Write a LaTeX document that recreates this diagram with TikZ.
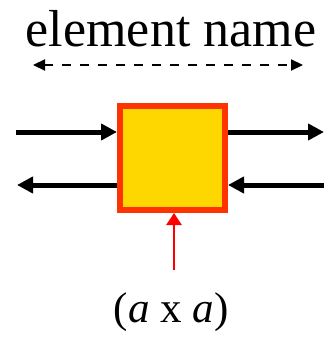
\documentclass[tikz,border=0pt]{standalone}
\usepackage{fontspec}
\setmainfont{Liberation Serif}
\usetikzlibrary{positioning, arrows.meta}
\definecolor{elemGold}{RGB}{255, 215, 0}
\definecolor{elemRim}{RGB}{255, 51, 0}
\definecolor{sizeRed}{RGB}{255, 0, 0}

\begin{document}
\begin{tikzpicture}[
    x=1pt, y=-1pt,
    elembox/.style={rectangle, draw=elemRim, fill=elemGold, line width=6pt,
        minimum width=105pt, minimum height=104pt, inner sep=0pt},
    portarr/.style={-{Triangle[length=16pt, width=16pt]}, line width=5pt, black},
    dimarr/.style={{Triangle[length=12pt, width=11pt]}-{Triangle[length=12pt, width=11pt]},
        line width=2.2pt, dash pattern=on 9pt off 9pt},
    sizearr/.style={-{Triangle[length=12pt, width=15pt]}, line width=2.5pt, sizeRed}
]
\useasboundingbox (0,0) rectangle (324,337);
\node[elembox] (elem) at (172.5,158) {};
\node[anchor=base, font=\fontsize{52}{60}\selectfont] (title) at (171,47) {element name};
\node[anchor=base, font=\fontsize{43}{50}\selectfont] (size) at (171,322) {(\textit{a} x \textit{a})};

\coordinate (dimL) at (33,65);
\coordinate (dimR) at (303,65);
\coordinate (inL) at (16,132);
\coordinate (outR) at (324,132);
\coordinate (outL) at (17,185);
\coordinate (inR) at (324,185);
\coordinate (sizeTop) at (174,270);

\draw[dimarr] (dimL) -- (dimR);
\draw[portarr] (inL) -- (inL -| elem.west);
\draw[portarr] (outR -| elem.east) -- (outR);
\draw[portarr] (outL -| elem.west) -- (outL);
\draw[portarr] (inR) -- (inR -| elem.east);
\draw[sizearr] (sizeTop) -- (sizeTop |- elem.south);
\end{tikzpicture}
\end{document}
